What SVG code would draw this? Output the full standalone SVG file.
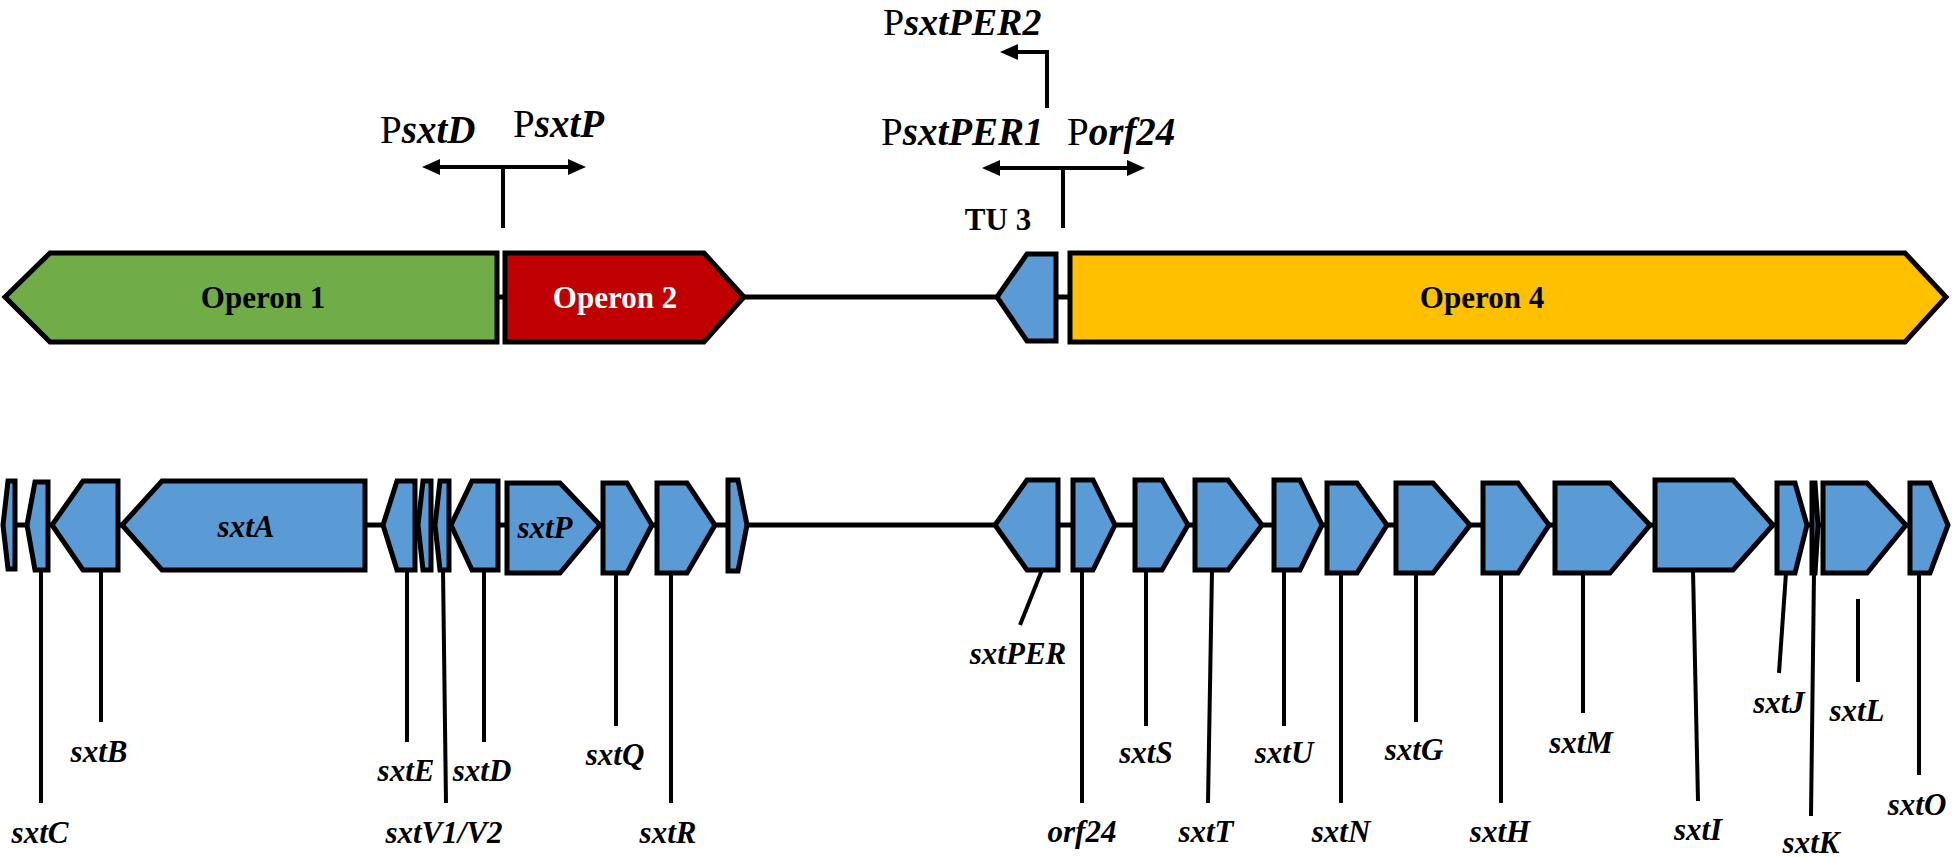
<svg xmlns="http://www.w3.org/2000/svg" width="1952" height="857" viewBox="0 0 1952 857">
<style>
.bg{fill:#ffffff}
.gene{fill:#5B9BD5;stroke:#000;stroke-width:5;stroke-linejoin:miter}
.op{stroke:#000;stroke-width:5;stroke-linejoin:miter}
.bb{stroke:#000;stroke-width:5;fill:none}
.ld{stroke:#000;stroke-width:4;fill:none}
.ar{stroke:#000;stroke-width:4;fill:none}
.lab{font-family:"Liberation Serif","Times New Roman",serif;font-weight:bold;font-style:italic;font-size:31px;fill:#000;text-anchor:middle}
.opl{font-family:"Liberation Serif","Times New Roman",serif;font-weight:bold;font-size:31px;text-anchor:middle}
.pr{font-family:"Liberation Serif","Times New Roman",serif;font-size:39px;fill:#000}
.bi{font-weight:bold;font-style:italic}
</style>
<defs>
<marker id="ah" markerUnits="userSpaceOnUse" markerWidth="18" markerHeight="16" refX="10" refY="8" orient="auto-start-reverse">
<path d="M0,0 L18,8 L0,16 Z" fill="#000"/>
</marker>
</defs>
<rect class="bg" x="0" y="0" width="1952" height="857"/>

<g id="connectors">
<line class="bb" x1="495" y1="297" x2="1072" y2="297"/>
<line class="bb" x1="5" y1="525" x2="1945" y2="525"/>
<!-- promoter arrows -->
<line class="ar" x1="503" y1="228" x2="503" y2="167"/>
<line class="ar" x1="430" y1="167" x2="578" y2="167" marker-start="url(#ah)" marker-end="url(#ah)"/>
<line class="ar" x1="1063" y1="228" x2="1063" y2="168"/>
<line class="ar" x1="990" y1="168" x2="1137" y2="168" marker-start="url(#ah)" marker-end="url(#ah)"/>
<polyline class="ar" points="1047,108 1047,52 1008,52" marker-end="url(#ah)"/>
<!-- leader lines -->
<line class="ld" x1="41" y1="570" x2="41" y2="803"/>
<line class="ld" x1="101" y1="570" x2="101" y2="722"/>
<line class="ld" x1="407" y1="570" x2="407" y2="742"/>
<line class="ld" x1="443" y1="570" x2="446" y2="803"/>
<line class="ld" x1="484" y1="570" x2="484" y2="742"/>
<line class="ld" x1="616" y1="573" x2="616" y2="726"/>
<line class="ld" x1="671" y1="573" x2="671" y2="803"/>
<line class="ld" x1="1042" y1="570" x2="1020" y2="625"/>
<line class="ld" x1="1082" y1="570" x2="1082" y2="803"/>
<line class="ld" x1="1146" y1="570" x2="1146" y2="726"/>
<line class="ld" x1="1212" y1="570" x2="1208" y2="803"/>
<line class="ld" x1="1284" y1="570" x2="1284" y2="726"/>
<line class="ld" x1="1341" y1="573" x2="1341" y2="803"/>
<line class="ld" x1="1416" y1="573" x2="1416" y2="722"/>
<line class="ld" x1="1501" y1="573" x2="1501" y2="803"/>
<line class="ld" x1="1583" y1="573" x2="1583" y2="713"/>
<line class="ld" x1="1693" y1="570" x2="1698" y2="801"/>
<line class="ld" x1="1786" y1="573" x2="1779" y2="673"/>
<line class="ld" x1="1814" y1="573" x2="1811" y2="816"/>
<line class="ld" x1="1858" y1="599" x2="1858" y2="682"/>
<line class="ld" x1="1919" y1="573" x2="1919" y2="775"/>
</g>

<g id="operon1"><polygon class="op" fill="#70AD47" points="497,253 50,253 5,297 50,342 497,342"/><text class="opl" x="263" y="308" fill="#000">Operon 1</text></g>
<g id="operon2"><polygon class="op" fill="#C00000" points="505,253 704,253 744,297 704,342 505,342"/><text class="opl" x="615" y="308" fill="#fff">Operon 2</text></g>
<g id="tu3"><polygon class="op" fill="#5B9BD5" points="1056,254 1027,254 997,297 1027,341 1056,341"/><text class="opl" x="998" y="230" fill="#000">TU 3</text></g>
<g id="operon4"><polygon class="op" fill="#FFC000" points="1070,253 1905,253 1946,297 1905,342 1070,342"/><text class="opl" x="1482" y="308" fill="#000">Operon 4</text></g>

<g id="promoters">
<text class="pr" x="380" y="143">P<tspan class="bi">sxtD</tspan></text>
<text class="pr" x="513" y="137">P<tspan class="bi">sxtP</tspan></text>
<text class="pr" x="883" y="35" style="font-size:38px">P<tspan class="bi">sxtPER2</tspan></text>
<text class="pr" x="881" y="145">P<tspan class="bi">sxtPER1</tspan></text>
<text class="pr" x="1067" y="145">P<tspan class="bi">orf24</tspan></text>
</g>

<g id="gene0"><polygon class="gene" points="15,481 8,481 3,525 8,569 15,569"/></g>
<g id="sxtC"><polygon class="gene" points="48,482 35,482 27,525 35,570 48,570"/><text class="lab" x="40" y="843">sxtC</text></g>
<g id="sxtB"><polygon class="gene" points="118,481 83,481 52,525 83,570 118,570"/><text class="lab" x="99" y="762">sxtB</text></g>
<g id="sxtA"><polygon class="gene" points="365,481 162,481 122,525 162,570 365,570"/><text class="lab" x="246" y="537">sxtA</text></g>
<g id="sxtE"><polygon class="gene" points="415,481 397,481 383,525 397,570 415,570"/><text class="lab" x="406" y="781">sxtE</text></g>
<g id="sxtV1"><polygon class="gene" points="431,481 423,481 418,525 423,570 431,570"/></g>
<g id="sxtV2"><polygon class="gene" points="449,481 440,481 435,525 440,570 449,570"/><text class="lab" x="444" y="843">sxtV1/V2</text></g>
<g id="sxtD"><polygon class="gene" points="498,481 472,481 451,525 472,570 498,570"/><text class="lab" x="482" y="781">sxtD</text></g>
<g id="sxtP"><polygon class="gene" points="507,483 560,483 600,525 560,573 507,573"/><text class="lab" x="545" y="538">sxtP</text></g>
<g id="sxtQ"><polygon class="gene" points="603,483 627,483 652,525 627,573 603,573"/><text class="lab" x="615" y="765">sxtQ</text></g>
<g id="sxtR"><polygon class="gene" points="657,483 687,483 715,525 687,573 657,573"/><text class="lab" x="668" y="843">sxtR</text></g>
<g id="gene11"><polygon class="gene" points="728,480 738,480 747,525 738,571 728,571"/></g>
<g id="sxtPER"><polygon class="gene" points="1058,480 1027,480 995,525 1027,570 1058,570"/><text class="lab" x="1018" y="664">sxtPER</text></g>
<g id="orf24"><polygon class="gene" points="1073,480 1093,480 1115,525 1093,570 1073,570"/><text class="lab" x="1082" y="842">orf24</text></g>
<g id="sxtS"><polygon class="gene" points="1135,480 1162,480 1188,525 1162,570 1135,570"/><text class="lab" x="1146" y="763">sxtS</text></g>
<g id="sxtT"><polygon class="gene" points="1195,480 1228,480 1262,525 1228,570 1195,570"/><text class="lab" x="1206" y="842">sxtT</text></g>
<g id="sxtU"><polygon class="gene" points="1274,480 1300,480 1322,525 1300,570 1274,570"/><text class="lab" x="1284" y="763">sxtU</text></g>
<g id="sxtN"><polygon class="gene" points="1327,483 1357,483 1387,525 1357,573 1327,573"/><text class="lab" x="1341" y="842">sxtN</text></g>
<g id="sxtG"><polygon class="gene" points="1396,483 1433,483 1470,525 1433,573 1396,573"/><text class="lab" x="1414" y="760">sxtG</text></g>
<g id="sxtH"><polygon class="gene" points="1483,483 1518,483 1549,525 1518,573 1483,573"/><text class="lab" x="1500" y="842">sxtH</text></g>
<g id="sxtM"><polygon class="gene" points="1555,483 1610,483 1650,525 1610,573 1555,573"/><text class="lab" x="1581" y="753">sxtM</text></g>
<g id="sxtI"><polygon class="gene" points="1655,480 1733,480 1773,525 1733,570 1655,570"/><text class="lab" x="1698" y="840">sxtI</text></g>
<g id="sxtJ"><polygon class="gene" points="1777,483 1795,483 1807,525 1795,573 1777,573"/><text class="lab" x="1779" y="713">sxtJ</text></g>
<g id="sxtK"><polygon class="gene" points="1812,483 1815,483 1818,525 1815,573 1812,573"/><text class="lab" x="1811" y="853">sxtK</text></g>
<g id="sxtL"><polygon class="gene" points="1823,483 1867,483 1906,525 1867,573 1823,573"/><text class="lab" x="1857" y="721">sxtL</text></g>
<g id="sxtO"><polygon class="gene" points="1910,483 1930,483 1948,525 1930,573 1910,573"/><text class="lab" x="1917" y="815">sxtO</text></g>
</svg>
